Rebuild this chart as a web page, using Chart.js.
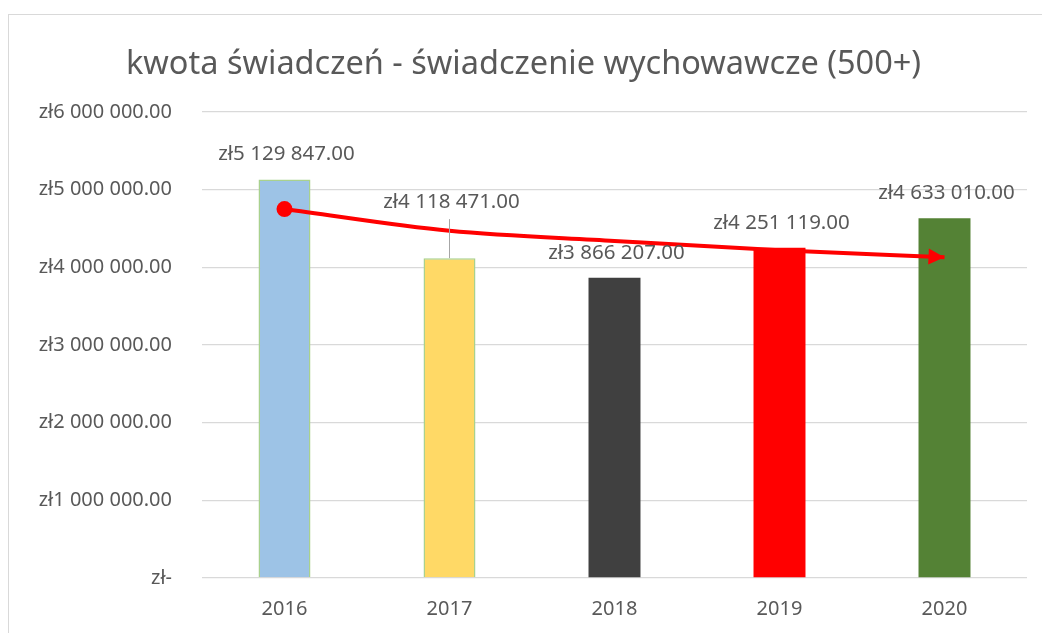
<!DOCTYPE html>
<html>
<head>
<meta charset="utf-8">
<script src="https://cdn.jsdelivr.net/npm/chart.js"></script>
<style>
  body { margin: 0; background: #fff; }
  #ramka { position: absolute; left: 8px; top: 14px; width: 1040px; height: 630px; border: 1px solid #d9d9d9; }
  #wrap { position: absolute; left: 0; top: 0; width: 1042px; height: 633px; }
</style>
</head>
<body>
<div id="ramka"></div>
<div id="wrap"><canvas id="grafica"></canvas></div>
<script>
const lata = ["2016", "2017", "2018", "2019", "2020"];
const kwoty = [5129847, 4118471, 3866207, 4251119, 4633010];
const trend = [4750000, 4470000, 4340000, 4220000, 4130000];
const etykietyOsi = ["zł-", "zł1 000 000.00", "zł2 000 000.00", "zł3 000 000.00", "zł4 000 000.00", "zł5 000 000.00", "zł6 000 000.00"];

const kolory = ["#9dc3e6", "#ffd966", "#404040", "#ff0000", "#548235"];
const ramki = ["#a9d18e", "#a9d18e", "#404040", "#ff0000", "#548235"];
const szary = "#595959";
const czcionka = "'Noto Sans', 'Liberation Sans', sans-serif";

function formatZl(v) {
  const s = Math.round(v).toString().replace(/\B(?=(\d{3})+(?!\d))/g, " ");
  return "zł" + s + ".00";
}

// etykiety nad słupkami
const etykiety = {
  id: "etykiety",
  afterDatasetsDraw(chart) {
    const c = chart.ctx;
    const meta = chart.getDatasetMeta(0);
    c.save();
    c.font = "20.5px " + czcionka;
    c.fillStyle = szary;
    c.textAlign = "center";
    c.textBaseline = "middle";
    meta.data.forEach((bar, i) => {
      let lift = 25;
      if (i === 1) {
        lift = 56;
        c.strokeStyle = "#a6a6a6";
        c.lineWidth = 1;
        c.beginPath();
        c.moveTo(bar.x, bar.y - 39);
        c.lineTo(bar.x, bar.y);
        c.stroke();
      }
      c.fillText(formatZl(kwoty[i]), bar.x + 2, bar.y - lift);
    });
    c.restore();
  }
};

// grot strzałki na końcu linii trendu
const grot = {
  id: "grot",
  afterDatasetsDraw(chart) {
    const meta = chart.getDatasetMeta(1);
    const pts = meta.data;
    const a = pts[pts.length - 2], b = pts[pts.length - 1];
    const ang = Math.atan2(b.y - a.y, b.x - a.x);
    const c = chart.ctx;
    c.save();
    c.translate(b.x, b.y);
    c.rotate(ang);
    c.fillStyle = "#ff0000";
    c.beginPath();
    c.moveTo(0, 0);
    c.lineTo(-16, -8);
    c.lineTo(-16, 8);
    c.closePath();
    c.fill();
    c.restore();
  }
};

new Chart(document.getElementById("grafica"), {
  data: {
    labels: lata,
    datasets: [
      {
        type: "bar",
        data: kwoty,
        backgroundColor: kolory,
        borderColor: ramki,
        borderWidth: [1.5, 1.5, 0, 0, 0],
        categoryPercentage: 1,
        barPercentage: 0.315,
        order: 2
      },
      {
        type: "line",
        data: trend,
        borderColor: "#ff0000",
        backgroundColor: "#ff0000",
        borderWidth: 4,
        cubicInterpolationMode: "monotone",
        pointRadius: ctx => ctx.dataIndex === 0 ? 8 : 0,
        pointBorderWidth: 0,
        order: 1
      }
    ]
  },
  options: {
    responsive: true,
    maintainAspectRatio: false,
    animation: false,
    layout: { padding: { left: 20, right: 15, top: 0, bottom: 0 } },
    plugins: {
      legend: { display: false },
      tooltip: { enabled: false },
      title: {
        display: true,
        text: "kwota świadczeń - świadczenie wychowawcze (500+)",
        color: szary,
        font: { family: czcionka, size: 32.5, weight: "normal" },
        padding: { top: 45, bottom: 28 }
      }
    },
    scales: {
      x: {
        grid: { display: false },
        border: { display: false },
        ticks: { color: szary, font: { family: czcionka, size: 20 }, padding: 11 },
        afterFit: s => { s.height = 55; }
      },
      y: {
        min: 0,
        max: 6000000,
        border: { display: false },
        grid: { color: "#d9d9d9", lineWidth: 1.3, drawTicks: false },
        ticks: {
          stepSize: 1000000,
          color: szary,
          padding: 30,
          font: { family: czcionka, size: 20 },
          callback: (v) => etykietyOsi[Math.round(v / 1000000)]
        },
        afterFit: s => { s.width = 182; }
      }
    }
  },
  plugins: [etykiety, grot]
});
</script>
</body>
</html>
